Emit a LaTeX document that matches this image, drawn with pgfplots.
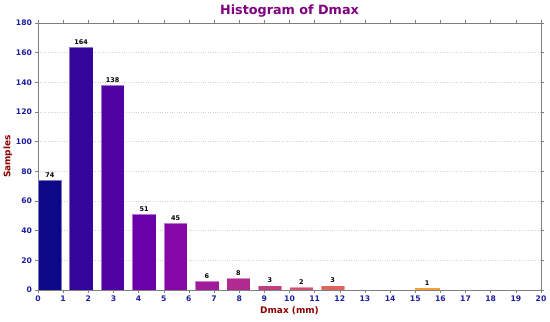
\documentclass[border=0pt]{standalone}
\usepackage{fontspec}
\setmainfont{DejaVu Sans}
\usepackage{pgfplots}
\pgfplotsset{compat=1.18}
\definecolor{c0}{HTML}{0D0887}
\definecolor{c1}{HTML}{33059A}
\definecolor{c2}{HTML}{5102A3}
\definecolor{c3}{HTML}{6A00A8}
\definecolor{c4}{HTML}{8606A6}
\definecolor{c5}{HTML}{A01A9C}
\definecolor{c6}{HTML}{B12A90}
\definecolor{c7}{HTML}{C23C81}
\definecolor{c8}{HTML}{D24F71}
\definecolor{c9}{HTML}{E0625F}
\definecolor{c12}{HTML}{F5A035}
\definecolor{tickblue}{HTML}{1E1EA0}
\definecolor{titlepurple}{HTML}{800080}
\definecolor{labelred}{HTML}{8B0000}
\begin{document}
\begin{tikzpicture}
\useasboundingbox (-38bp,-32bp) rectangle (512bp,290bp);
\begin{axis}[
  at={(0,0)}, anchor=south west,
  scale only axis, width=503bp, height=267bp,
  xmin=0, xmax=20, ymin=0, ymax=180,
  xtick={0,1,...,20}, ytick={0,20,...,180},
  tick align=outside, major tick length=3bp,
  tick style={color=gray, line width=0.5pt},
  axis line style={color=gray, line width=0.7pt},
  ymajorgrids, major grid style={color=gray!35, dotted, line width=0.5pt},
  /pgf/number format/assume math mode=true,
  tick label style={font=\fontsize{7.7}{8}\selectfont\bfseries, text=tickblue},
  xticklabel style={yshift=0.5bp},
  yticklabel style={xshift=0.5bp},
  every axis title shift=0pt,
  title={Histogram of Dmax},
  title style={font=\fontsize{12.8}{14}\selectfont\bfseries, text=titlepurple, at={(axis description cs:0.5,1.043)}, anchor=center},
  xlabel={Dmax (mm)},
  xlabel style={font=\fontsize{9}{10}\selectfont\bfseries, text=labelred, at={(axis description cs:0.5,-0.079)}, anchor=center},
  ylabel={Samples},
  ylabel style={font=\fontsize{9}{10}\selectfont\bfseries, text=labelred, at={(axis description cs:-0.0596,0.5)}, anchor=center},
  ybar, bar width=0.9375, bar shift=0pt,
  every axis plot/.append style={draw=white, draw opacity=0.45, line width=0.4pt},
  nodes near coords,
  every node near coord/.append style={font=\fontsize{6.5}{7}\selectfont\bfseries, text=black, yshift=-1bp},
]
\addplot[fill=c0] coordinates {(0.46875,74)};
\addplot[fill=c1] coordinates {(1.71875,164)};
\addplot[fill=c2] coordinates {(2.96875,138)};
\addplot[fill=c3] coordinates {(4.21875,51)};
\addplot[fill=c4] coordinates {(5.46875,45)};
\addplot[fill=c5] coordinates {(6.71875,6)};
\addplot[fill=c6] coordinates {(7.96875,8)};
\addplot[fill=c7] coordinates {(9.21875,3)};
\addplot[fill=c8] coordinates {(10.46875,2)};
\addplot[fill=c9] coordinates {(11.71875,3)};
\addplot[fill=c12, draw=c12, draw opacity=1] coordinates {(15.46875,1)};
\end{axis}
\end{tikzpicture}
\end{document}
